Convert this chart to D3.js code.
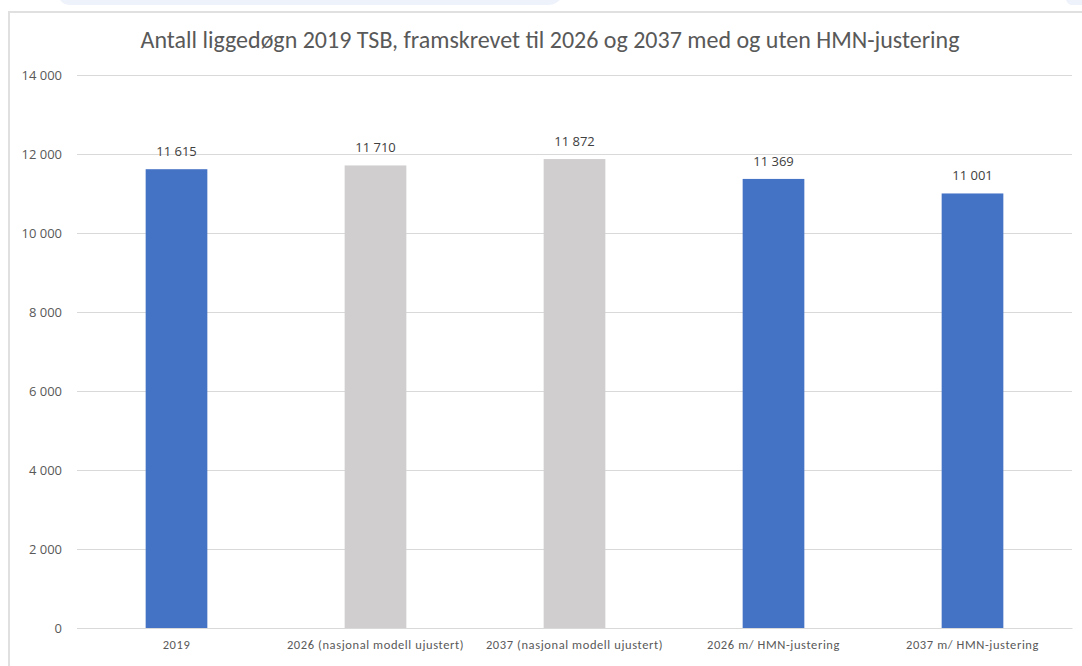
<!DOCTYPE html>
<html lang="no">
<head>
<meta charset="UTF-8">
<title>Antall liggedøgn</title>
<script src="https://d3js.org/d3.v7.min.js"></script>
<style>
  html, body { margin: 0; padding: 0; background: #fff; }
  svg { display: block; }
</style>
</head>
<body>
<svg id="chart" width="1082" height="666"></svg>
<script>
// data
const categories = ["2019", "2026 (nasjonal modell ujustert)", "2037 (nasjonal modell ujustert)", "2026 m/ HMN-justering", "2037 m/ HMN-justering"];
const values = [11615, 11710, 11872, 11369, 11001];
const barColors = ["#4472c4", "#d0cece", "#d0cece", "#4472c4", "#4472c4"];
const yTicks = [0, 2000, 4000, 6000, 8000, 10000, 12000, 14000];
const title = "Antall liggedøgn 2019 TSB, framskrevet til 2026 og 2037 med og uten HMN-justering";

const narrow = "Carlito, 'Liberation Sans Narrow', 'DejaVu Sans Condensed', sans-serif";
const sans = "'Open Sans', 'Noto Sans', sans-serif";

const svg = d3.select("#chart");

// bakgrunn / ramme
svg.append("path")
  .attr("d", "M60,0 H560 L556,3 Q553,5 548,5 H72 Q66,5 63,3 Z")
  .attr("fill", "#eef2fb");
svg.append("path")
  .attr("d", "M1066,0 H1082 V5 H1072 Q1068,5 1066,0 Z")
  .attr("fill", "#eef2fb");
svg.append("path")
  .attr("d", "M9,666 V12 H1082")
  .attr("fill", "none")
  .attr("stroke", "#e0e0e0")
  .attr("stroke-width", 2);

const x0 = 77, x1 = 1072, yTop = 75, yBottom = 628;

const x = d3.scaleBand()
  .domain(categories)
  .range([x0, x1])
  .paddingInner(0.69)
  .paddingOuter(0.345);

const y = d3.scaleLinear()
  .domain([0, 14000])
  .range([yBottom, yTop]);

const fmt = v => d3.format(",")(v).replace(/,/g, " ");

// rutenett + y-akse
const yAxis = svg.append("g")
  .attr("transform", `translate(${x0},0)`)
  .call(d3.axisLeft(y).tickValues(yTicks).tickSize(-(x1 - x0)).tickPadding(15).tickFormat(fmt));
yAxis.select(".domain").remove();
yAxis.selectAll(".tick line").attr("stroke", "#d9d9d9").attr("stroke-width", 1);
yAxis.selectAll(".tick text")
  .attr("fill", "#595959")
  .style("font-family", sans)
  .style("font-size", "13px");

// søyler
svg.append("g").selectAll("rect")
  .data(values)
  .join("rect")
  .attr("x", (d, i) => x(categories[i]))
  .attr("y", d => y(d))
  .attr("width", x.bandwidth())
  .attr("height", d => yBottom - y(d))
  .attr("fill", (d, i) => barColors[i]);

// verdietiketter
svg.append("g").selectAll("text")
  .data(values)
  .join("text")
  .attr("x", (d, i) => x(categories[i]) + x.bandwidth() / 2)
  .attr("y", d => y(d) - 13)
  .attr("text-anchor", "middle")
  .attr("fill", "#404040")
  .style("font-family", sans)
  .style("font-size", "13px")
  .text(fmt);

// x-akse
const xAxis = svg.append("g")
  .attr("transform", `translate(0,${yBottom})`)
  .call(d3.axisBottom(x).tickSize(0).tickPadding(12));
xAxis.select(".domain").attr("stroke", "#d9d9d9");
xAxis.selectAll(".tick text")
  .attr("fill", "#595959")
  .style("font-family", narrow)
  .style("font-size", "12.5px")
  .style("letter-spacing", "0.6px");

// tittel
svg.append("text")
  .attr("x", 550)
  .attr("y", 48)
  .attr("text-anchor", "middle")
  .attr("fill", "#595959")
  .style("font-family", narrow)
  .style("font-size", "24px")
  .text(title);
</script>
</body>
</html>
